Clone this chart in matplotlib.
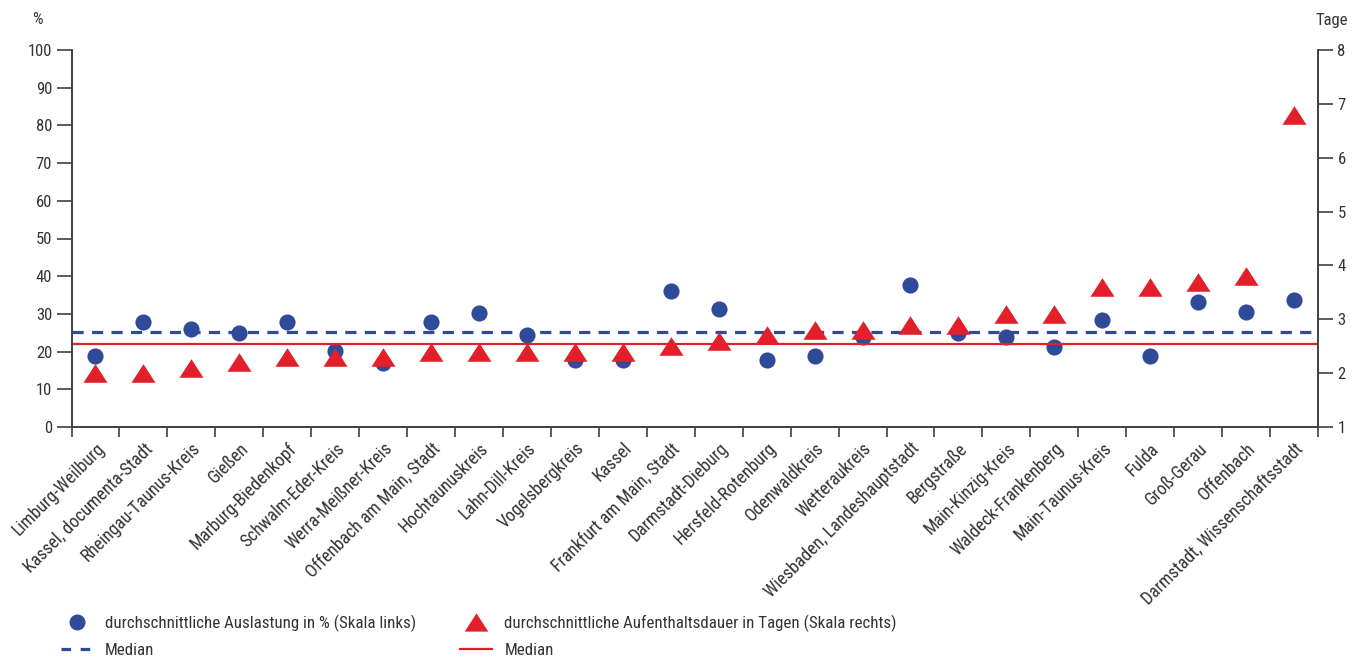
import numpy as np
import matplotlib
matplotlib.use('Agg')
import matplotlib.pyplot as plt
from matplotlib.lines import Line2D
from matplotlib.path import Path
from matplotlib import font_manager

# Data
kreise = ['Limburg-Weilburg', 'Kassel, documenta-Stadt', 'Rheingau-Taunus-Kreis', 'Gießen',
          'Marburg-Biedenkopf', 'Schwalm-Eder-Kreis', 'Werra-Meißner-Kreis',
          'Offenbach am Main, Stadt', 'Hochtaunuskreis', 'Lahn-Dill-Kreis', 'Vogelsbergkreis',
          'Kassel', 'Frankfurt am Main, Stadt', 'Darmstadt-Dieburg', 'Hersfeld-Rotenburg',
          'Odenwaldkreis', 'Wetteraukreis', 'Wiesbaden, Landeshauptstadt', 'Bergstraße',
          'Main-Kinzig-Kreis', 'Waldeck-Frankenberg', 'Main-Taunus-Kreis', 'Fulda',
          'Groß-Gerau', 'Offenbach', 'Darmstadt, Wissenschaftsstadt']
auslastung = [18.9, 27.8, 26.1, 25.0, 27.8, 20.2, 17.0, 27.9, 30.3, 24.4, 17.8, 17.8, 36.2,
              31.2, 17.9, 18.9, 23.9, 37.6, 24.9, 24.0, 21.3, 28.4, 18.8, 33.2, 30.4, 33.6]
aufenthalt = [2.0, 2.0, 2.1, 2.2, 2.3, 2.3, 2.3, 2.4, 2.4, 2.4, 2.4, 2.4, 2.5,
              2.6, 2.7, 2.8, 2.8, 2.9, 2.9, 3.1, 3.1, 3.6, 3.6, 3.7, 3.8, 6.8]
median_auslastung = 25.1
median_aufenthalt = 2.55

blue = '#2f4a99'
red = '#e3202a'
axis_col = '#404040'
txt_col = '#333333'

# prefer a narrow font like the original, otherwise plain Liberation Sans
installed = {f.name for f in font_manager.fontManager.ttflist}
narrow = [n for n in ('Liberation Sans Narrow', 'Roboto Condensed', 'Open Sans Condensed')
          if n in installed]
if narrow:
    plt.rcParams['font.family'] = [narrow[0], 'DejaVu Sans']
    fs_tick, fs_y, fs_leg = 12.8, 12.0, 12.2
else:
    plt.rcParams['font.family'] = ['Liberation Sans', 'DejaVu Sans']
    fs_tick, fs_y, fs_leg = 11.0, 10.5, 10.5
plt.rcParams['text.color'] = txt_col

# flat triangle marker
tri = Path([(-1.1, -0.85), (1.1, -0.85), (0, 0.85), (-1.1, -0.85)],
           [Path.MOVETO, Path.LINETO, Path.LINETO, Path.CLOSEPOLY])

W, H = 1365, 657
fig = plt.figure(figsize=(W / 100, H / 100), dpi=100)
ax = fig.add_axes([71.5 / W, 1 - 427 / H, (1318 - 71.5) / W, 377 / H])
ax2 = ax.twinx()

x = np.arange(len(kreise))

ax.axhline(median_auslastung, color=blue, lw=2.3, ls=(0, (3.5, 2.6)), zorder=1)
ax.scatter(x, auslastung, s=135, color=blue, zorder=3, linewidths=0)
ax2.axhline(median_aufenthalt, color=red, lw=1.6, zorder=1)
ax2.scatter(x, aufenthalt, s=300, marker=tri, color=red, zorder=3, linewidths=0)

ax.set_xlim(-0.5, len(kreise) - 0.5)
ax.set_ylim(0, 100)
ax2.set_ylim(1, 8)
ax.set_yticks(range(0, 101, 10))
ax2.set_yticks(range(1, 9))

for a in (ax, ax2):
    a.spines['top'].set_visible(False)
    for s in ('left', 'right', 'bottom'):
        a.spines[s].set_color(axis_col)
        a.spines[s].set_linewidth(1.2)
    a.tick_params(axis='y', length=11, width=1.2, color=axis_col, labelsize=fs_y,
                  labelcolor=txt_col, pad=3)

ax.set_xticks(np.arange(len(kreise) + 1) - 0.5)
ax.set_xticklabels([])
ax.set_xticks(x, minor=True)
ax.set_xticklabels(kreise, minor=True, rotation=45, ha='right', va='top',
                   rotation_mode='anchor', fontsize=fs_tick, color=txt_col)
ax.tick_params(axis='x', which='major', length=7, width=1.2, color=axis_col)
ax.tick_params(axis='x', which='minor', length=0, pad=9)

fig.text(37 / W, 1 - 20 / H, '%', fontsize=fs_y, ha='center', va='center')
fig.text(1332 / W, 1 - 20 / H, 'Tage', fontsize=fs_y, ha='center', va='center')

handles = [
    Line2D([], [], ls='none', marker='o', ms=11.5, color=blue, mec='none'),
    Line2D([], [], color=blue, lw=2.3, ls=(0, (3.0, 3.0))),
    Line2D([], [], ls='none', marker=tri, ms=17, color=red, mec='none'),
    Line2D([], [], color=red, lw=1.6),
]
labels = ['durchschnittliche Auslastung in % (Skala links)', 'Median',
          'durchschnittliche Aufenthaltsdauer in Tagen (Skala rechts)', 'Median']
fig.legend(handles, labels, loc='upper left', bbox_to_anchor=(61 / W, 1 - 615 / H),
           ncol=2, frameon=False, fontsize=fs_leg, handlelength=1.85, handletextpad=0.75,
           columnspacing=2.6, labelspacing=0.65, borderaxespad=0, borderpad=0)

fig.savefig('out.png', dpi=100)
